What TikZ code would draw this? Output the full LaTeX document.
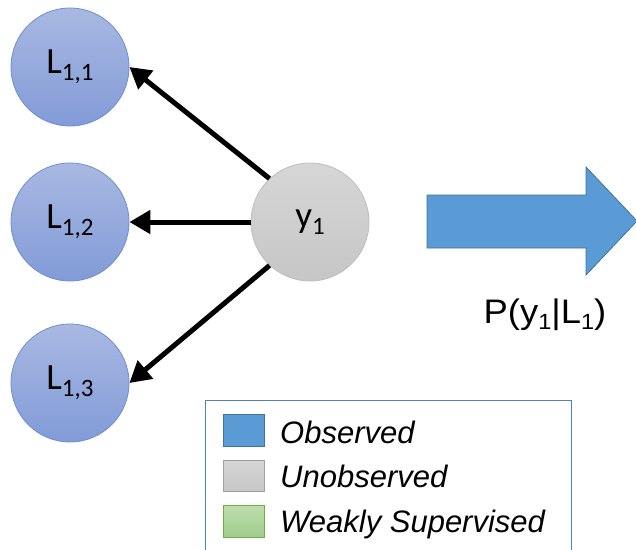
\documentclass[tikz,border=0pt]{standalone}
\usepackage{fontspec}
\setmainfont{Liberation Sans}
\newfontfamily\calib{Carlito}
\usetikzlibrary{arrows.meta}
\definecolor{obsblue}{RGB}{91,155,213}
\definecolor{obsedge}{RGB}{65,113,156}
\definecolor{ltop}{RGB}{168,184,226}
\definecolor{lbot}{RGB}{130,155,215}
\definecolor{ledge}{RGB}{110,143,205}
\definecolor{gtop}{RGB}{214,214,214}
\definecolor{gbot}{RGB}{198,198,198}
\definecolor{gedge}{RGB}{190,190,190}
\definecolor{legedge}{RGB}{80,130,190}
\definecolor{wtop}{RGB}{190,222,172}
\definecolor{wbot}{RGB}{160,204,140}
\definecolor{wedge}{RGB}{112,173,71}
\newcommand{\csub}[1]{\raisebox{-0.2em}{\fontsize{25}{25}\selectfont #1}}
\newcommand{\asub}[1]{\raisebox{-0.2em}{\fontsize{22}{22}\selectfont #1}}
\tikzset{
  lnode/.style={circle, minimum size=118pt, inner sep=0pt, draw=ledge, line width=0.8pt,
    top color=ltop, bottom color=lbot, font=\calib\fontsize{37}{37}\selectfont},
  ynode/.style={circle, minimum size=118pt, inner sep=0pt, draw=gedge, line width=0.8pt,
    top color=gtop, bottom color=gbot, font=\calib\fontsize{37}{37}\selectfont},
  edgearrow/.style={line width=5pt, -{Triangle[length=21pt,width=23pt]}},
  swatch/.style={line width=0.8pt},
  legtext/.style={anchor=base west, inner sep=0pt, font=\itshape\fontsize{31}{31}\selectfont}
}
\begin{document}
\begin{tikzpicture}[x=1pt,y=-1pt]
\useasboundingbox (0,0) rectangle (636,549);
\node[lnode] (L11) at (70,67) {\raisebox{-3pt}{L\csub{1,1}}};
\node[lnode] (L12) at (70,222) {\raisebox{-3pt}{L\csub{1,2}}};
\node[lnode] (L13) at (70,383) {\raisebox{-3pt}{L\csub{1,3}}};
\node[ynode] (y1) at (310,222) {y\csub{1}};
\draw[edgearrow] (y1.133) -- (L11.east);
\draw[edgearrow] (y1.west) -- (L12.east);
\draw[edgearrow] (y1.227) -- (L13.east);
\draw[fill=obsblue, draw=obsedge, line width=0.8pt]
  (427,195) -- (586,195) -- (586,167) -- (637,221) -- (586,275) -- (586,248) -- (427,248) -- cycle;
\node[anchor=base, inner sep=0pt, xscale=1.07, font=\fontsize{34}{34}\selectfont] (plabel) at (545,323)
  {P(y\asub{1}|L\asub{1})};
\draw[draw=legedge, line width=1pt] (205,400) rectangle (571,552);
\node[swatch, draw=obsedge, fill=obsblue, minimum width=41pt, minimum height=32pt, inner sep=0pt] (s1) at (243.5,430) {};
\node[swatch, draw=gedge!85!black, top color=gtop, bottom color=gbot, minimum width=41pt, minimum height=31pt, inner sep=0pt] (s2) at (243.5,475.5) {};
\node[swatch, draw=wedge, top color=wtop, bottom color=wbot, minimum width=41pt, minimum height=32pt, inner sep=0pt] (s3) at (243.5,521) {};
\node[legtext] (t1) at (280,443) {Observed};
\node[legtext] (t2) at (280,487) {Unobserved};
\node[legtext] (t3) at (280,532) {Weakly Supervised};
\end{tikzpicture}
\end{document}
